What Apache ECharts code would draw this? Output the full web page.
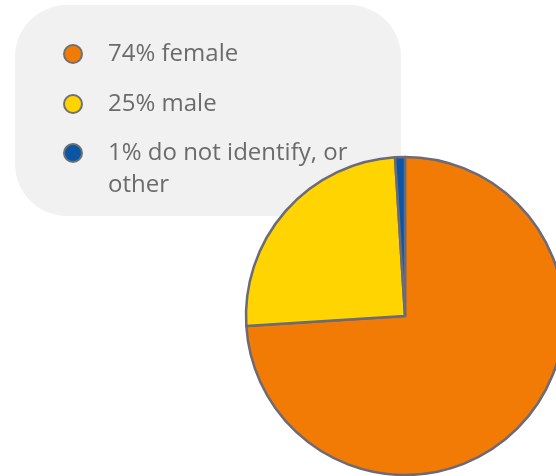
<!DOCTYPE html>
<html>
<head>
<meta charset="utf-8">
<script src="https://cdn.jsdelivr.net/npm/echarts@6/dist/echarts.min.js"></script>
<style>
  html, body { margin: 0; padding: 0; background: #ffffff; }
  #chart { width: 556px; height: 476px; }
</style>
</head>
<body>
<div id="chart"></div>
<script>
// Gender breakdown (percent of respondents)
const categories = ['female', 'male', 'do not identify, or other'];
const shares = [74, 25, 1];
const sliceColors = ['#f27b05', '#ffd400', '#0b56a4'];

const fontFamily = '"Open Sans", "Noto Sans", sans-serif';
const chart = echarts.init(document.getElementById('chart'), null, { renderer: 'canvas' });

// One legend block per entry so each row can be placed on its own line.
// The wrapped last entry gets a blank leading line so its marker sits
// beside the first line of text instead of the middle of the block.
const legendTops = [38, 88, 105];
const legends = categories.map((name, i) => ({
  data: [name],
  left: 63,
  top: legendTops[i],
  padding: 0,
  orient: 'vertical',
  selectedMode: false,
  icon: 'circle',
  itemWidth: 18,
  itemHeight: 18,
  itemStyle: { borderColor: '#707070', borderWidth: 2 },
  formatter: n => {
    const label = shares[categories.indexOf(n)] + '% ' + n;
    return i === 2 ? '\n' + label : label;
  },
  textStyle: {
    fontFamily,
    fontSize: 24,
    color: '#6b6b6b',
    lineHeight: 32,
    width: 250,
    overflow: 'break',
    padding: [0, 0, 0, 21]
  }
}));

chart.setOption({
  animation: false,
  backgroundColor: '#ffffff',
  graphic: [{
    type: 'rect',
    z: 0,
    silent: true,
    shape: { x: 15, y: 5, width: 386, height: 211, r: 52 },
    style: { fill: '#f1f1f1' }
  }],
  legend: legends,
  series: [{
    type: 'pie',
    z: 5,
    center: [405, 316],
    radius: 159,
    startAngle: 90,
    clockwise: true,
    silent: true,
    label: { show: false },
    labelLine: { show: false },
    itemStyle: { borderColor: '#6a6a78', borderWidth: 2.5 },
    data: categories.map((name, i) => ({
      name,
      value: shares[i],
      itemStyle: { color: sliceColors[i] }
    }))
  }]
});
</script>
</body>
</html>
